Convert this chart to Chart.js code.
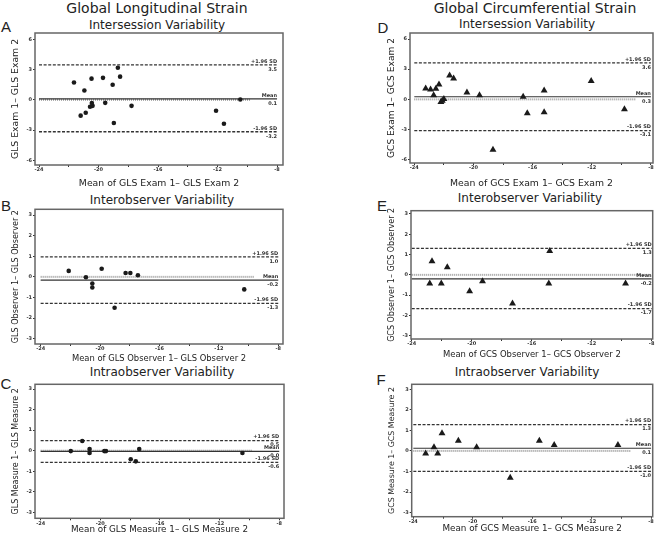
<!DOCTYPE html>
<html>
<head>
<meta charset="utf-8">
<script src="https://cdn.jsdelivr.net/npm/chart.js@4.4.0/dist/chart.umd.min.js"></script>
<style>
html, body { margin: 0; padding: 0; background: #fff; overflow: hidden; width: 658px; height: 534px; }
canvas { position: absolute; }
.t { position: absolute; font-family: 'DejaVu Sans'; color: #222; white-space: nowrap; transform: translate(-50%, -50%); }
.h1 { font-size: 14px; }
.h2 { font-size: 12px; }
.lt { font-family: 'Liberation Sans'; font-size: 15px; }
</style>
</head>
<body>
<div class="t h1" style="left:157px;top:8px">Global Longitudinal Strain</div>
<div class="t h1" style="left:535px;top:8px">Global Circumferential Strain</div>
<div class="t h2" style="left:157px;top:25px">Intersession Variability</div>
<div class="t h2" style="left:527px;top:24px">Intersession Variability</div>
<div class="t h2" style="left:162px;top:200px">Interobserver Variability</div>
<div class="t h2" style="left:530px;top:198px">Interobserver Variability</div>
<div class="t h2" style="left:162px;top:372px">Intraobserver Variability</div>
<div class="t h2" style="left:527px;top:372px">Intraobserver Variability</div>
<div class="t lt" style="left:6px;top:26px">A</div>
<div class="t lt" style="left:6px;top:205px">B</div>
<div class="t lt" style="left:6px;top:383px">C</div>
<div class="t lt" style="left:383px;top:27px">D</div>
<div class="t lt" style="left:382px;top:205px">E</div>
<div class="t lt" style="left:381px;top:379px">F</div>
<script>
// tick labels
const xTicks = [-24, -20, -16, -12, -8];
const xMinorTicks = [-22, -18, -14, -10];
const yTicksWide = [-6, -3, 0, 3, 6];
const yTicksNarrow = [-3, -2, -1, 0, 1, 2, 3];
const limitNames = ['+1.96 SD', 'Mean', '-1.96 SD'];

// A - GLS intersession
const glsExamMean = [-21.65, -20.95, -20.47, -19.7, -18.7, -18.55, -19.05, -21.2, -20.86, -20.57, -20.4, -20.45, -19.55, -17.78, -18.97, -12.1, -11.57, -10.47];
const glsExamDiff = [1.72, 0.92, 2.1, 2.18, 3.18, 2.3, 1.5, -1.57, -1.29, -0.69, -0.6, -0.32, -0.3, -0.6, -2.3, -1.09, -2.38, 0.03];
const glsExamLimits = [3.47, 0.1, -3.17];

// B - GLS interobserver
const glsObsMean = [-22.11, -20.95, -20.52, -20.52, -19.89, -19.02, -18.28, -17.96, -17.45, -10.29];
const glsObsDiff = [0.29, -0.02, -0.32, -0.52, 0.39, -1.5, 0.19, 0.19, 0.08, -0.61];
const glsObsLimits = [0.97, -0.16, -1.29];

// C - GLS intraobserver
const glsMeasMean = [-21.98, -21.21, -20.72, -20.72, -19.73, -19.62, -17.96, -17.62, -17.39, -10.47];
const glsMeasDiff = [-0.02, 0.47, 0.08, -0.11, -0.02, -0.02, -0.42, -0.52, 0.08, -0.11];
const glsMeasLimits = [0.49, -0.03, -0.57];

// D - GCS intersession
const gcsExamMean = [-23.23, -22.9, -22.69, -22.54, -22.33, -22.2, -22.11, -22.0, -21.61, -21.34, -20.44, -19.59, -18.68, -16.64, -16.36, -15.22, -15.22, -12.04, -9.79];
const gcsExamDiff = [1.09, 0.99, 0.4, 1.06, 1.49, -0.26, -0.13, 0.03, 2.38, 2.08, 0.69, 0.4, -5.02, 0.26, -1.39, 0.89, -1.29, 1.82, -0.99];
const gcsExamLimits = [3.62, 0.26, -3.1];

// E - GCS interobserver
const gcsObsMean = [-22.8, -22.65, -22.03, -21.63, -20.14, -19.28, -17.28, -14.8, -14.86, -9.74];
const gcsObsDiff = [-0.43, 0.67, -0.43, 0.38, -0.81, -0.31, -1.41, 1.17, -0.43, -0.43];
const gcsObsLimits = [1.3, -0.2, -1.66];

// F - GCS intraobserver
const gcsMeasMean = [-23.17, -22.61, -22.36, -22.07, -20.97, -19.74, -17.48, -15.52, -14.52, -10.23];
const gcsMeasDiff = [-0.13, 0.18, -0.13, 0.86, 0.49, 0.18, -1.3, 0.49, 0.29, 0.29];
const gcsMeasLimits = [1.28, 0.13, -1.0];

const panels = [
    { cl: 0, ct: 28, cw: 292, ch: 162, padT: 5, padR: 9, yW: 35, xH: 25,
      xMin: -24.27, xMax: -7.6, yMin: -6.47, yMax: 6.63, yTicks: yTicksWide,
      means: glsExamMean, diffs: glsExamDiff, limits: glsExamLimits, marker: 'circle', zeroEnd: -9.8,
      xTitle: 'Mean of GLS Exam 1\u2013 GLS Exam 2', yTitle: 'GLS Exam 1\u2013 GLS Exam 2', xFont: 9.3, yFont: 9.3, yTitleX: 16 },
    { cl: 0, ct: 204, cw: 292, ch: 161, padT: 5.3, padR: 9, yW: 35, xH: 21,
      xMin: -24.38, xMax: -7.68, yMin: -3.26, yMax: 3.28, yTicks: yTicksNarrow,
      means: glsObsMean, diffs: glsObsDiff, limits: glsObsLimits, marker: 'circle', zeroEnd: -9.6,
      xTitle: 'Mean of GLS Observer 1\u2013 GLS Observer 2', yTitle: 'GLS Observer 1\u2013 GLS Observer 2', xFont: 8.4, yFont: 8.1, yTitleX: 16 },
    { cl: 0, ct: 379, cw: 292, ch: 157, padT: 5.3, padR: 8, yW: 35, xH: 17.7,
      xMin: -24.38, xMax: -7.68, yMin: -3.29, yMax: 3.23, yTicks: yTicksNarrow,
      means: glsMeasMean, diffs: glsMeasDiff, limits: glsMeasLimits, marker: 'circle', zeroEnd: -9.8,
      xTitle: 'Mean of GLS Measure 1\u2013 GLS Measure 2', yTitle: 'GLS Measure 1\u2013 GLS Measure 2', xFont: 8.8, yFont: 8.0, yTitleX: 16 },
    { cl: 372, ct: 28, cw: 286, ch: 162, padT: 5, padR: 5, yW: 38, xH: 27,
      xMin: -24.29, xMax: -7.86, yMin: -6.33, yMax: 6.6, yTicks: yTicksWide,
      means: gcsExamMean, diffs: gcsExamDiff, limits: gcsExamLimits, marker: 'triangle', zeroEnd: -9.0,
      xTitle: 'Mean of GCS Exam 1\u2013 GCS Exam 2', yTitle: 'GCS Exam 1\u2013 GCS Exam 2', xFont: 9.3, yFont: 9.1, yTitleX: 392 },
    { cl: 372, ct: 205, cw: 286, ch: 156, padT: 5.7, padR: 5.3, yW: 39, xH: 22,
      xMin: -24.05, xMax: -7.93, yMin: -3.16, yMax: 3.16, yTicks: yTicksNarrow,
      means: gcsObsMean, diffs: gcsObsDiff, limits: gcsObsLimits, marker: 'triangle', zeroEnd: -8.1,
      xTitle: 'Mean of GCS Observer 1\u2013 GCS Observer 2', yTitle: 'GCS Observer 1\u2013 GCS Observer 2', xFont: 8.45, yFont: 8.0, yTitleX: 392 },
    { cl: 372, ct: 379, cw: 286, ch: 156, padT: 5.3, padR: 5.3, yW: 39.7, xH: 18.3,
      xMin: -24.11, xMax: -7.89, yMin: -3.2, yMax: 3.24, yTicks: yTicksNarrow,
      means: gcsMeasMean, diffs: gcsMeasDiff, limits: gcsMeasLimits, marker: 'triangle', zeroEnd: -9.4,
      xTitle: 'Mean of GCS Measure 1\u2013 GCS Measure 2', yTitle: 'GCS Measure 1\u2013 GCS Measure 2', xFont: 8.8, yFont: 7.9, yTitleX: 392 }
];

// frame + limit labels
const blandAltmanDecor = {
    id: 'blandAltmanDecor',
    afterDatasetsDraw(chart, args, opts) {
        const { ctx, chartArea: a, scales: { x, y } } = chart;
        ctx.save();
        ctx.strokeStyle = '#666';
        ctx.lineWidth = 1.5;
        ctx.strokeRect(a.left, a.top, a.right - a.left, a.bottom - a.top);
        ctx.font = 'bold 5px "DejaVu Sans"';
        ctx.fillStyle = '#333';
        ctx.textAlign = 'right';
        ctx.textBaseline = 'middle';
        const xr = x.getPixelForValue(-8);
        opts.limits.forEach((v, i) => {
            const py = y.getPixelForValue(v);
            ctx.fillText(limitNames[i], xr, py - 3.5);
            ctx.fillText(v.toFixed(1), xr, py + 4.5);
        });
        ctx.restore();
    }
};

function refLine(x0, x1, v, color, width, dash) {
    return {
        type: 'line',
        data: [{ x: x0, y: v }, { x: x1, y: v }],
        borderColor: color,
        borderWidth: width,
        borderDash: dash,
        pointRadius: 0,
        fill: false
    };
}

function makePanel(p) {
    const cv = document.createElement('canvas');
    cv.width = p.cw;
    cv.height = p.ch;
    cv.style.left = p.cl + 'px';
    cv.style.top = p.ct + 'px';
    cv.style.width = p.cw + 'px';
    cv.style.height = p.ch + 'px';
    document.body.appendChild(cv);

    const tickFont = { family: 'DejaVu Sans', size: 5, weight: 'bold' };
    const yFontLH = p.yFont * 1.2;

    new Chart(cv, {
        type: 'scatter',
        data: {
            datasets: [
                {
                    data: p.means.map((m, i) => ({ x: m, y: p.diffs[i] })),
                    pointStyle: p.marker,
                    pointRadius: p.marker === 'circle' ? 2.3 : 4,
                    backgroundColor: '#1a1a1a',
                    borderWidth: 0
                },
                refLine(-24, -8, p.limits[0], '#333', 1.3, [3, 1.6]),
                refLine(-24, -8, p.limits[1], '#333', 1.2, []),
                refLine(-24, -8, p.limits[2], '#333', 1.3, [3, 1.6]),
                refLine(-24, p.zeroEnd, 0, '#9a9a9a', 2, [1, 1])
            ]
        },
        options: {
            responsive: false,
            animation: false,
            layout: { padding: { top: p.padT, right: p.padR, left: 0, bottom: 0 } },
            plugins: {
                legend: { display: false },
                tooltip: { enabled: false },
                blandAltmanDecor: { limits: p.limits }
            },
            scales: {
                x: {
                    type: 'linear',
                    min: p.xMin,
                    max: p.xMax,
                    afterBuildTicks: s => { s.ticks = xTicks.concat(xMinorTicks).sort((a, b) => a - b).map(v => ({ value: v })); },
                    afterFit: s => { s.height = p.xH; s.paddingLeft = 0; s.paddingRight = 0; },
                    ticks: {
                        font: tickFont, color: '#333', padding: 0, maxRotation: 0, autoSkip: false,
                        callback: v => xTicks.includes(v) ? String(v) : ''
                    },
                    grid: { drawOnChartArea: false, drawTicks: true, tickLength: 2, color: '#333' },
                    border: { display: false },
                    title: {
                        display: true, text: p.xTitle, color: '#222',
                        font: { family: 'DejaVu Sans', size: p.xFont },
                        padding: { top: 0, bottom: 1.3 }
                    }
                },
                y: {
                    type: 'linear',
                    min: p.yMin,
                    max: p.yMax,
                    afterBuildTicks: s => { s.ticks = p.yTicks.map(v => ({ value: v })); },
                    afterFit: s => { s.width = p.yW; s.paddingTop = 0; s.paddingBottom = 0; },
                    ticks: { font: tickFont, color: '#333', padding: 1, autoSkip: false },
                    grid: { drawOnChartArea: false, drawTicks: true, tickLength: 2, color: '#333' },
                    border: { display: false },
                    title: {
                        display: true, text: p.yTitle, color: '#222',
                        font: { family: 'DejaVu Sans', size: p.yFont },
                        padding: { top: p.yTitleX - p.cl - yFontLH / 2, bottom: 0 }
                    }
                }
            }
        },
        plugins: [blandAltmanDecor]
    });
}

panels.forEach(makePanel);
</script>
</body>
</html>
